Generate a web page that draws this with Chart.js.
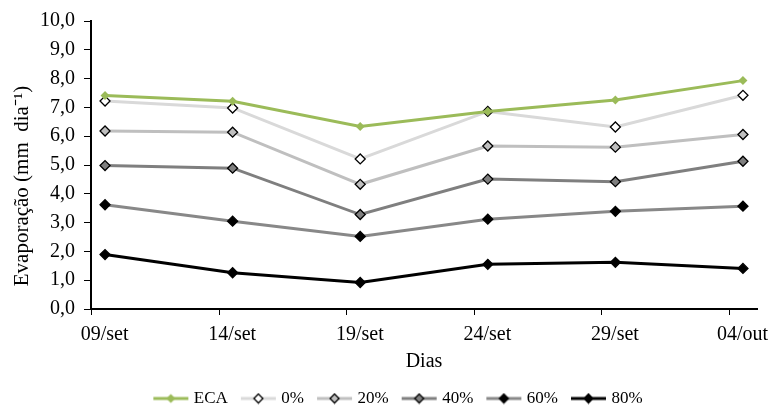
<!DOCTYPE html>
<html lang="pt">
<head>
  <meta charset="UTF-8">
  <title>Evaporação</title>
  <script src="https://cdn.jsdelivr.net/npm/chart.js"></script>
  <style>
    html, body { margin: 0; padding: 0; background: #fff; }
    #wrap { width: 772px; height: 406px; }
  </style>
</head>
<body>
  <div id="wrap"><canvas id="chart" width="772" height="406"></canvas></div>

  <script>
    // dados
    const dias = ["09/set", "14/set", "19/set", "24/set", "29/set", "04/out"];
    const yLabels = ["0,0", "1,0", "2,0", "3,0", "4,0", "5,0", "6,0", "7,0", "8,0", "9,0", "10,0"];

    const eca = [7.41, 7.21, 6.34, 6.86, 7.26, 7.93];
    const p0  = [7.22, 6.98, 5.21, 6.86, 6.32, 7.42];
    const p20 = [6.18, 6.14, 4.33, 5.66, 5.62, 6.06];
    const p40 = [4.98, 4.89, 3.28, 4.51, 4.42, 5.13];
    const p60 = [3.62, 3.05, 2.52, 3.12, 3.39, 3.57];
    const p80 = [1.89, 1.26, 0.92, 1.55, 1.62, 1.41];

    const serif = "'Liberation Serif', 'Times New Roman', serif";

    // simbolo da legenda: linha + losango
    function legendIcon(line, fill, border) {
      const c = document.createElement('canvas');
      c.width = 41; c.height = 12;
      const g = c.getContext('2d');
      g.strokeStyle = line;
      g.lineWidth = 3;
      g.beginPath(); g.moveTo(3, 6); g.lineTo(38, 6); g.stroke();
      g.beginPath();
      g.moveTo(20.5, 1.5); g.lineTo(25, 6); g.lineTo(20.5, 10.5); g.lineTo(16, 6); g.closePath();
      g.fillStyle = fill; g.fill();
      if (border) { g.strokeStyle = border; g.lineWidth = 1.3; g.stroke(); }
      return c;
    }

    function serie(label, data, line, fill, border, r) {
      return {
        label: label,
        data: data.map((v, i) => ({ x: i, y: v })),
        borderColor: line,
        borderWidth: 3,
        pointStyle: 'rectRot',
        pointRadius: r,
        pointBackgroundColor: fill,
        pointBorderColor: border || fill,
        pointBorderWidth: border ? 1.3 : 0,
        tension: 0,
        legendIcon: legendIcon(line, fill, border)
      };
    }

    const datasets = [
      serie("ECA", eca, "#9BBB59", "#9BBB59", null, 4.5),
      serie("0%", p0, "#D9D9D9", "#FFFFFF", "#000000", 5),
      serie("20%", p20, "#BFBFBF", "#BFBFBF", "#000000", 5),
      serie("40%", p40, "#7F7F7F", "#7F7F7F", "#000000", 5),
      serie("60%", p60, "#888888", "#000000", "#000000", 5),
      serie("80%", p80, "#000000", "#000000", "#000000", 5)
    ];

    // a legenda do original fica um pouco à direita do centro
    const legendShift = {
      id: 'legendShift',
      afterLayout(chart) {
        if (chart.legend) { chart.legend.left += 21; chart.legend.right += 21; }
      }
    };

    new Chart(document.getElementById('chart'), {
      type: 'line',
      data: { datasets: datasets },
      plugins: [legendShift],
      options: {
        responsive: false,
        animation: false,
        events: [],
        layout: { padding: { left: 0, right: 15, top: 7, bottom: -11 } },
        plugins: {
          tooltip: { enabled: false },
          legend: {
            position: 'bottom',
            labels: {
              color: '#000',
              font: { family: serif, size: 17 },
              usePointStyle: true,
              pointStyleWidth: 29,
              padding: 16,
              generateLabels: (chart) => chart.data.datasets.map((ds, i) => ({
                text: ds.label,
                pointStyle: ds.legendIcon,
                fillStyle: ds.borderColor,
                strokeStyle: ds.borderColor,
                lineWidth: 0,
                hidden: false,
                datasetIndex: i,
                fontColor: '#000'
              }))
            }
          }
        },
        scales: {
          x: {
            type: 'linear',
            min: -0.11,
            max: 5.11,
            afterBuildTicks: (scale) => {
              scale.ticks = dias.map((d, i) => ({ value: i - 0.105 }));
            },
            afterFit: (scale) => { scale.height = 65; },
            border: { color: '#000', width: 2 },
            grid: { drawOnChartArea: false, drawTicks: true, tickLength: 6, tickColor: '#000', tickWidth: 1 },
            ticks: {
              autoSkip: false,
              maxRotation: 0,
              color: '#000',
              font: { family: serif, size: 20 },
              padding: 8,
              labelOffset: 13,
              callback: (v, i) => dias[i]
            },
            title: {
              display: true,
              text: 'Dias',
              color: '#000',
              font: { family: serif, size: 20 },
              padding: { top: 0, bottom: 0 }
            }
          },
          y: {
            min: 0,
            max: 10,
            afterFit: (scale) => { scale.width = 91; },
            border: { color: '#000', width: 2 },
            grid: { drawOnChartArea: false, drawTicks: true, tickLength: 7, tickColor: '#000', tickWidth: 1 },
            ticks: {
              stepSize: 1,
              color: '#000',
              font: { family: serif, size: 20 },
              padding: 9,
              callback: (v, i) => yLabels[i]
            },
            title: {
              display: true,
              text: 'Evaporação (mm  dia⁻¹)        ',
              color: '#000',
              font: { family: serif, size: 21 },
              padding: { top: 10, bottom: 0 }
            }
          }
        }
      }
    });
  </script>
</body>
</html>
